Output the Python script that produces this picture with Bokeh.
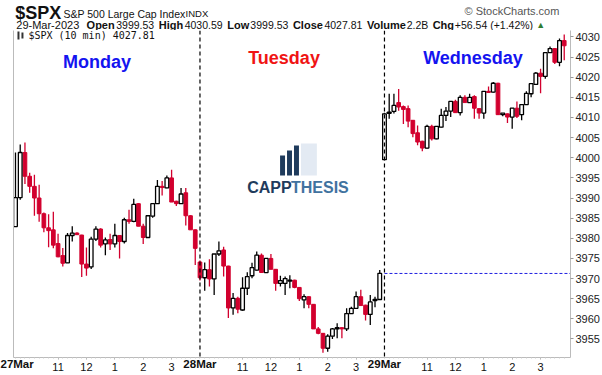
from bokeh.plotting import figure
from bokeh.layouts import column
from bokeh.models import (Range1d, LinearAxis, FixedTicker, Label, Span,
                          ColumnDataSource, BoxAnnotation)
from bokeh.embed import file_html
from bokeh.resources import INLINE

# ---------------- data ----------------
opens = [
    3982.9, 3990.1, 4001.3, 3995.4, 3992.9, 3990.0, 3986.1, 3982.6, 3982.1, 3978.7,
    3975.7, 3973.9, 3980.7, 3981.3, 3980.8, 3973.6, 3972.9, 3979.8, 3982.3, 3978.6,
    3979.7, 3978.6, 3980.7, 3979.2, 3984.6, 3984.2, 3988.6, 3983.0, 3980.2, 3985.5,
    3988.6, 3992.9, 3992.5, 3995.0, 3989.2, 3988.6, 3991.3, 3985.6, 3982.1,
    3974.1, 3970.2, 3972.2, 3969.9, 3976.1, 3977.1, 3973.1, 3962.7, 3965.1, 3962.2,
    3967.6, 3970.7, 3972.1, 3975.8, 3971.5, 3975.0, 3972.3, 3968.8, 3968.8, 3969.4,
    3969.6, 3967.8, 3964.7, 3965.5, 3963.6, 3957.5, 3956.4, 3952.7, 3955.7, 3957.5,
    3957.8, 3957.5, 3961.3, 3962.6, 3965.5, 3963.4, 3961.1, 3964.5, 3964.8,
    3999.53, 4011.0, 4011.5, 4013.7, 4012.7, 4012.2, 4009.3, 4006.2, 4004.1, 4002.4,
    4007.8, 4004.7, 4007.6, 4010.5, 4011.6, 4014.0, 4011.2, 4015.0, 4013.7, 4015.2,
    4012.2, 4011.1, 4016.5, 4016.3, 4018.5, 4010.7, 4010.9, 4010.1, 4012.3, 4010.7,
    4013.2, 4015.9, 4018.2, 4021.0, 4020.2, 4026.1, 4027.1, 4023.7, 4029.1]
highs = [
    4001.3, 4003.3, 4003.8, 3996.3, 3995.8, 3993.3, 3986.4, 3986.0, 3986.6, 3981.1,
    3977.6, 3981.3, 3983.0, 3981.5, 3980.9, 3977.7, 3980.4, 3983.0, 3982.5, 3980.2,
    3981.1, 3983.6, 3980.8, 3985.1, 3987.1, 3989.8, 3988.7, 3983.6, 3985.6, 3988.7,
    3994.5, 3994.2, 3995.6, 3997.0, 3989.3, 3992.5, 3992.5, 3985.7, 3982.2,
    3974.5, 3974.0, 3974.8, 3976.1, 3979.2, 3977.9, 3973.2, 3966.4, 3965.5, 3970.3,
    3971.6, 3973.9, 3976.7, 3976.2, 3975.0, 3976.1, 3972.4, 3970.7, 3970.5, 3970.8,
    3969.7, 3967.9, 3966.1, 3965.6, 3963.7, 3958.0, 3956.5, 3956.2, 3957.7, 3958.9,
    3957.9, 3962.6, 3963.0, 3966.8, 3967.2, 3963.5, 3965.9, 3965.5, 3972.1,
    4011.2, 4015.9, 4015.9, 4017.1, 4013.0, 4013.0, 4009.4, 4008.0, 4004.2, 4008.2,
    4008.2, 4007.9, 4012.2, 4012.6, 4014.0, 4014.4, 4015.5, 4015.5, 4015.9, 4015.5,
    4012.3, 4016.5, 4017.7, 4018.8, 4018.6, 4011.1, 4011.0, 4012.3, 4014.0, 4013.2,
    4016.5, 4018.4, 4021.3, 4022.1, 4026.1, 4027.6, 4027.2, 4029.6, 4030.59]
lows = [
    3982.9, 3989.6, 3993.5, 3991.3, 3985.6, 3984.1, 3981.5, 3977.8, 3977.5, 3975.3,
    3973.0, 3973.9, 3979.2, 3980.8, 3970.4, 3970.7, 3972.4, 3979.3, 3977.7, 3975.8,
    3977.1, 3977.7, 3975.0, 3978.7, 3983.6, 3984.0, 3983.0, 3978.6, 3980.1, 3985.1,
    3988.5, 3990.6, 3992.4, 3989.0, 3988.0, 3988.5, 3983.2, 3982.1, 3973.4,
    3969.5, 3967.0, 3968.0, 3965.9, 3975.6, 3970.5, 3960.2, 3961.0, 3961.4, 3962.0,
    3965.9, 3970.1, 3972.0, 3971.5, 3971.4, 3972.3, 3967.0, 3968.0, 3965.9, 3967.6,
    3967.6, 3964.4, 3962.6, 3962.6, 3957.5, 3956.2, 3951.6, 3951.8, 3955.0, 3955.2,
    3955.2, 3957.0, 3961.2, 3962.5, 3963.3, 3959.6, 3958.5, 3962.9, 3964.7,
    3999.53, 4009.7, 4011.0, 4011.7, 4008.4, 4007.6, 4005.1, 4003.1, 4001.6, 4002.3,
    4004.3, 4004.6, 4007.5, 4009.1, 4010.1, 4011.2, 4010.5, 4013.7, 4013.6, 4009.7,
    4009.7, 4009.7, 4016.1, 4016.2, 4010.7, 4010.3, 4008.6, 4007.2, 4009.9, 4009.3,
    4013.1, 4015.0, 4018.1, 4016.0, 4019.6, 4026.0, 4023.3, 4022.7, 4024.2]
closes = [
    3990.1, 4001.3, 3995.4, 3992.9, 3990.0, 3986.1, 3982.6, 3981.9, 3978.3, 3975.4,
    3973.8, 3980.7, 3981.3, 3980.9, 3973.6, 3972.6, 3979.8, 3982.3, 3978.3, 3979.6,
    3978.6, 3980.7, 3979.2, 3984.6, 3984.2, 3988.4, 3983.0, 3980.2, 3985.6, 3988.6,
    3992.9, 3992.6, 3995.0, 3989.0, 3988.6, 3991.0, 3985.6, 3982.1, 3977.5,
    3970.2, 3972.2, 3969.9, 3976.1, 3976.9, 3973.1, 3962.7, 3965.1, 3962.4, 3967.6,
    3970.5, 3972.7, 3975.8, 3971.5, 3975.0, 3972.3, 3968.8, 3969.5, 3970.0, 3969.6,
    3967.8, 3965.0, 3965.5, 3963.6, 3957.5, 3956.4, 3952.7, 3955.7, 3957.5, 3957.8,
    3957.5, 3961.3, 3962.6, 3965.5, 3963.3, 3961.1, 3964.2, 3964.8, 3971.3,
    4010.9, 4011.3, 4013.0, 4012.6, 4012.0, 4009.1, 4006.0, 4003.9, 4002.4, 4007.8,
    4004.7, 4007.8, 4010.5, 4011.6, 4014.0, 4011.2, 4015.0, 4013.7, 4015.0, 4012.3,
    4011.1, 4016.5, 4016.2, 4018.5, 4010.7, 4011.1, 4010.1, 4012.3, 4010.3, 4013.2,
    4016.0, 4018.4, 4021.0, 4020.2, 4026.1, 4027.1, 4023.7, 4029.1, 4027.81]

day_dates = ["27Mar", "28Mar", "29Mar"]
day_names = ["Monday", "Tuesday", "Wednesday"]
day_name_colors = ["#1414f0", "#f01414", "#1414f0"]
bars_per_day = 39
hour_labels = ["11", "12", "1", "2", "3"]
hour_bar_offsets = [9, 15, 21, 27, 33]
price_ticks = [3955, 3960, 3965, 3970, 3975, 3980, 3985, 3990, 3995,
               4000, 4005, 4010, 4015, 4020, 4025, 4030]
prev_close = 3971.27

header_symbol = "$SPX"
header_name = "S&P 500 Large Cap Index"
header_exchange = "INDX"
header_date = "29-Mar-2023"
header_fields = [("Open", "3999.53"), ("High", "4030.59"), ("Low", "3999.53"),
                 ("Close", "4027.81"), ("Volume", "2.2B"), ("Chg", "+56.54 (+1.42%)")]
legend_text = "$SPX (10 min) 4027.81"

# ---------------- layout helpers ----------------
W, H = 602, 375
HDR = 30
FL, FR, FT, FB = 13, 573, 30, 357      # frame in page pixels
n = len(closes)
X0 = -0.42
X1 = X0 + (FR - FL) / 4.756
Y0, Y1 = 3950.4, 4031.6


def px_x(px):
    return X0 + (px - FL) * (X1 - X0) / (FR - FL)


def px_y(py):
    return Y1 - (py - FT) * (Y1 - Y0) / (FB - FT)


RED = "#d2002e"
FONT = "Liberation Sans"
TXT = "#111111"

# ---------------- header strip ----------------
hdr = figure(width=W, height=HDR, output_backend="svg", toolbar_location=None,
             x_range=Range1d(0, W), y_range=Range1d(HDR, 0),
             x_axis_type=None, y_axis_type=None, min_border=0)
hdr.outline_line_color = None
hdr.grid.visible = False


def hlabel(x, y, text, size="10.5px", bold=False, color=TXT, align="left", font=FONT):
    hdr.add_layout(Label(x=x, y=y, text=text, text_font=font,
                         text_font_style="bold" if bold else "normal",
                         text_font_size=size, text_align=align,
                         text_baseline="middle", text_color=color))


hlabel(2, 12, header_symbol, size="18px", bold=True)
hlabel(54, 13, header_name, size="10.5px")
hlabel(186, 13, header_exchange, size="9.5px")
hlabel(590, 10, "\u00a9 StockCharts.com", size="11px", color="#555555", align="right")
hlabel(3, 24, header_date, size="11px")
field_x = [(79, 111), (157, 185), (231, 256), (302, 336), (382, 425), (453, 477)]
for (lab, val), (lx, vx) in zip(header_fields, field_x):
    hlabel(lx, 24, lab, bold=True, size="11px")
    hlabel(vx, 24, val, size="10.5px")
hlabel(565, 24, "\u25b2", size="9px", color="#2e7d32")

# ---------------- main chart ----------------
idx = list(range(n))
up = [c >= o for o, c in zip(opens, closes)]


def make_src(flag):
    sel = [i for i in idx if up[i] == flag]
    return ColumnDataSource(dict(
        x=sel,
        h=[highs[i] for i in sel],
        l=[lows[i] for i in sel],
        top=[max(opens[i], closes[i]) for i in sel],
        bot=[min(opens[i], closes[i]) for i in sel],
    ))


src_up = make_src(True)
src_dn = make_src(False)

p = figure(width=W, height=H - HDR, output_backend="svg", toolbar_location=None,
           x_range=Range1d(X0, X1), y_range=Range1d(Y0, Y1),
           x_axis_type=None, y_axis_type=None,
           min_border_left=FL, min_border_right=W - FR,
           min_border_top=0, min_border_bottom=H - FB)
p.outline_line_color = None
p.background_fill_color = "white"
p.border_fill_color = "white"

yax = LinearAxis(ticker=FixedTicker(ticks=price_ticks, minor_ticks=[]),
                 axis_line_color="#bbbbbb", major_tick_line_color="#999999",
                 major_tick_out=3, major_tick_in=0, minor_tick_out=0,
                 major_label_standoff=2, major_label_text_font_size="11px",
                 major_label_text_font=FONT, major_label_text_color="#222222")
p.add_layout(yax, "right")

hour_ticks = []
hour_over = {}
for d in range(len(day_dates)):
    for off, lab in zip(hour_bar_offsets, hour_labels):
        t = d * bars_per_day + off
        hour_ticks.append(t)
        hour_over[t] = lab
xax = LinearAxis(ticker=FixedTicker(ticks=hour_ticks, minor_ticks=idx),
                 major_label_overrides=hour_over,
                 axis_line_color="#bbbbbb", major_tick_line_color="#aaaaaa",
                 minor_tick_line_color="#cccccc",
                 major_tick_out=2, major_tick_in=0, minor_tick_out=1, minor_tick_in=0,
                 major_label_standoff=3, major_label_text_font_size="11px",
                 major_label_text_font=FONT, major_label_text_color=TXT)
p.add_layout(xax, "below")

date_ticks = [d * bars_per_day for d in range(len(day_dates))]
dax = LinearAxis(ticker=FixedTicker(ticks=date_ticks, minor_ticks=[]),
                 major_label_overrides={t: lab for t, lab in zip(date_ticks, day_dates)},
                 axis_line_color=None, major_tick_line_color=None,
                 major_tick_out=0, major_tick_in=0, minor_tick_out=0,
                 major_label_standoff=-16, major_label_text_font_size="11.5px",
                 major_label_text_font=FONT, major_label_text_font_style="bold",
                 major_label_text_color=TXT)
p.add_layout(dax, "below")

lax = LinearAxis(ticker=FixedTicker(ticks=[]), axis_line_color="#bbbbbb",
                 major_tick_out=0, minor_tick_out=0, major_label_standoff=0,
                 major_label_text_font_size="0px")
p.add_layout(lax, "left")

for d in range(1, len(day_dates)):
    p.add_layout(Span(location=d * bars_per_day, dimension="height",
                      line_color="black", line_width=1.2, line_dash="4 3"))

p.segment(x0=[2 * bars_per_day], x1=[X1], y0=[prev_close], y1=[prev_close],
          line_color="#2020e0", line_width=1, line_dash="3 2")

p.segment(x0="x", x1="x", y0="l", y1="h", source=src_dn, line_color=RED, line_width=1.3)
p.segment(x0="x", x1="x", y0="l", y1="h", source=src_up, line_color="black", line_width=1.3)
p.vbar(x="x", top="top", bottom="bot", width=0.78, source=src_dn,
       fill_color=RED, line_color=RED, line_width=1)
p.vbar(x="x", top="top", bottom="bot", width=0.78, source=src_up,
       fill_color="white", line_color="black", line_width=1.3)

name_pos = [(97, 61), (285, 57), (475, 57)]
for (cx, cy), nm, col in zip(name_pos, day_names, day_name_colors):
    p.add_layout(Label(x=px_x(cx), y=px_y(cy), text=nm, text_font=FONT,
                       text_font_style="bold", text_font_size="18px",
                       text_align="center", text_baseline="middle", text_color=col))

p.add_layout(Label(x=px_x(28), y=px_y(35), text=legend_text, text_font="DejaVu Sans Mono",
                   text_font_size="10px", text_baseline="middle", text_color=TXT))
p.add_layout(BoxAnnotation(left=px_x(17), right=px_x(19), top=px_y(31), bottom=px_y(39),
                           fill_color="#333333", fill_alpha=1, line_color=None))
p.add_layout(BoxAnnotation(left=px_x(21), right=px_x(23), top=px_y(32), bottom=px_y(38),
                           fill_color="#333333", fill_alpha=1, line_color=None))

# logo watermark
for (l, r, t, b, c) in [(302, 318, 143, 175, "#e3eaf3"),
                        (281, 286, 155, 175, "#1f3b5c"), (288, 293, 150, 175, "#1f3b5c"),
                        (295, 300, 145, 175, "#1f3b5c")]:
    p.add_layout(BoxAnnotation(left=px_x(l), right=px_x(r), top=px_y(t), bottom=px_y(b),
                               fill_color=c, fill_alpha=1, line_color=None))
p.add_layout(Label(x=px_x(248), y=px_y(187), text="CAPP", text_font=FONT,
                   text_font_style="bold", text_font_size="16px",
                   text_baseline="middle", text_color="#1f3b5c"))
p.add_layout(Label(x=px_x(292), y=px_y(187), text="THESIS", text_font=FONT,
                   text_font_style="bold", text_font_size="16px",
                   text_baseline="middle", text_color="#41729f"))

layout = column(hdr, p, spacing=0)
html = file_html(layout, INLINE, title="SPX 10 min")
html = html.replace("</head>", "<style>html,body{margin:0;padding:0;overflow:hidden;}</style></head>", 1)
open("out.html", "w").write(html)
